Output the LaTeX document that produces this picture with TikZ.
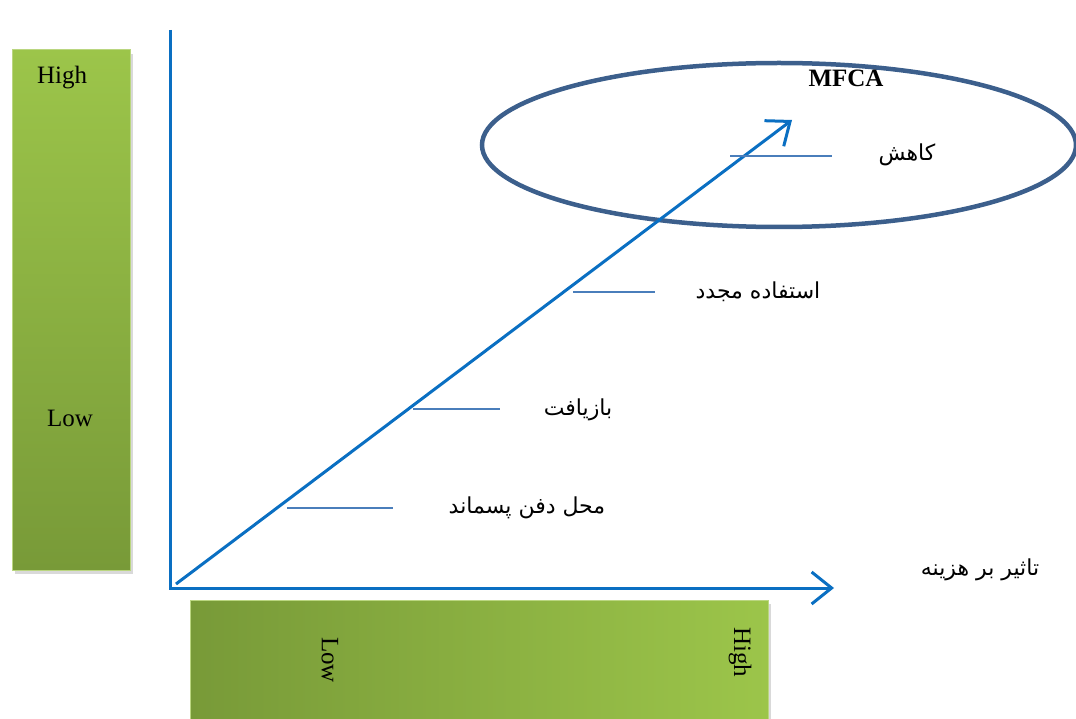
\documentclass[tikz,border=0pt]{standalone}
\usepackage{fontspec}
\setmainfont{Liberation Serif}
\newfontfamily\farsi[Script=Arabic]{DejaVu Sans}
\TeXXeTstate=1
\usetikzlibrary{arrows.meta,shadows,shapes.geometric}

\definecolor{barlight}{HTML}{9CC54A}
\definecolor{bardark}{HTML}{789A38}
\definecolor{axisblue}{HTML}{0A6FC2}
\definecolor{tickblue}{HTML}{4A7EBB}
\definecolor{ringblue}{HTML}{3C5F8C}

\begin{document}
\begin{tikzpicture}[x=1pt, y=-1pt,
    bar/.style={draw=barlight!70!white, line width=1pt, inner sep=0pt,
      drop shadow={shadow xshift=3pt, shadow yshift=-4pt, opacity=0.3}},
    axis/.style={axisblue, line width=3pt, line join=miter},
    barb/.style={-{Straight Barb[length=20pt, width=32pt, line width=3pt]}},
    tick/.style={tickblue, line width=1.5pt},
    latin/.style={font=\fontsize{25}{30}\selectfont},
    fa/.style={font=\fontsize{22}{26}\farsi}]
    \useasboundingbox (0,0) rectangle (1076,719);

    % gradient bars
    \node (vbar) [bar, minimum width=118pt, minimum height=520pt,
      top color=barlight, bottom color=bardark] at (71,310) {};
    \node (hbar) [bar, minimum width=578pt, minimum height=130pt,
      left color=bardark, right color=barlight] at (479,665) {};
    \node (vhigh) [latin] at (62,78) {High};
    \node (vlow) [latin] at (70,418) {Low};
    \node (hlow) [latin, rotate=-90] at (330,660) {Low};
    \node (hhigh) [latin, rotate=-90] at (740,652) {High};

    % MFCA ring
    \node (ring) [draw=ringblue, line width=4.5pt, ellipse, minimum width=594pt,
      minimum height=164pt, inner sep=0pt] at (779,145) {};
    \node (mfca) [latin, font=\fontsize{25}{30}\selectfont\bfseries] at (846,78) {MFCA};

    % axes
    \coordinate (ytop) at (170,30);
    \coordinate (o) at (170,588);
    \coordinate (xend) at (834,588);
    \draw[axis, barb] (ytop) -- (o) -- (xend);

    % diagonal
    \coordinate (d0) at (176,584);
    \coordinate (d1) at (792,120);
    \draw[axis, barb] (d0) -- (d1);

    % ticks and labels
    \node (lred) [fa] at (907,155) {\beginR کاهش\endR};
    \node (lreuse) [fa] at (758,292) {\beginR استفاده مجدد\endR};
    \node (lrec) [fa] at (578,410) {\beginR بازیافت\endR};
    \node (lland) [fa] at (527,508) {\beginR محل دفن پسماند\endR};
    \node (lcost) [fa] at (980,570) {\beginR تاثیر بر هزینه\endR};

    \coordinate (t1) at (730,156);
    \coordinate (t2) at (573,292);
    \coordinate (t3) at (413,409);
    \coordinate (t4) at (287,508);
    \draw[tick] (t1) -- (832,156);
    \draw[tick] (t2) -- (655,292);
    \draw[tick] (t3) -- (500,409);
    \draw[tick] (t4) -- (393,508);
\end{tikzpicture}
\end{document}
